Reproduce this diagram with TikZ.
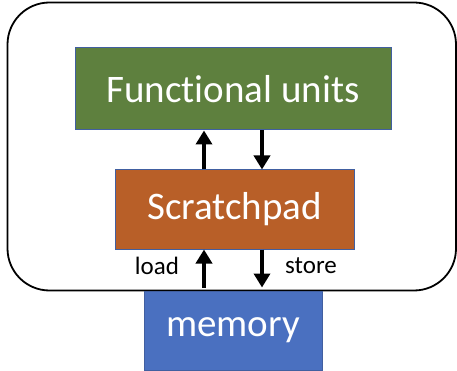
\documentclass[tikz,border=0pt]{standalone}
\usepackage{fontspec}
\setmainfont[Ligatures=NoCommon]{Carlito}
\usetikzlibrary{arrows.meta}
\definecolor{fugreen}{RGB}{94,128,62}
\definecolor{sporange}{RGB}{184,95,40}
\definecolor{memblue}{RGB}{74,112,192}
\definecolor{edgeblue}{RGB}{65,95,160}
\tikzset{
  unitbox/.style={draw=edgeblue, line width=1pt, text=white, inner sep=0pt,
    font=\fontsize{39}{44}\selectfont},
  arr/.style={line width=4.4pt, -{Triangle[length=14pt,width=16pt]}},
  lbl/.style={font=\fontsize{25}{30}\selectfont, inner sep=0pt}
}
\begin{document}
\begin{tikzpicture}[x=1pt,y=1pt]
  \useasboundingbox (0,0) rectangle (457,-371);
  % enclosing chip outline
  \draw[line width=1.8pt, rounded corners=42pt] (7.5,-2.5) rectangle (456,-290.5);
  % blocks
  \node[unitbox, fill=fugreen, minimum width=316pt, minimum height=82pt]
    (fu) at (233,-89) {Functional units};
  \node[unitbox, fill=sporange, minimum width=239pt, minimum height=79pt]
    (sp) at (234.5,-209.5) {Scratchpad};
  \node[unitbox, fill=memblue, minimum width=178pt, minimum height=79pt]
    (mem) at (233,-330.5) {memory};
  % data paths
  \coordinate (xl) at (204,0);
  \coordinate (xr) at (262,0);
  \draw[arr] (sp.north -| xl) -- (fu.south -| xl);
  \draw[arr] (fu.south -| xr) -- (sp.north -| xr);
  \draw[arr] ([yshift=3pt]mem.north -| xl) -- (sp.south -| xl);
  \draw[arr] (sp.south -| xr) -- ([yshift=3pt]mem.north -| xr);
  \node[lbl] (ld) at (157,-266) {load};
  \node[lbl] (st) at (311,-266) {store};
\end{tikzpicture}
\end{document}
